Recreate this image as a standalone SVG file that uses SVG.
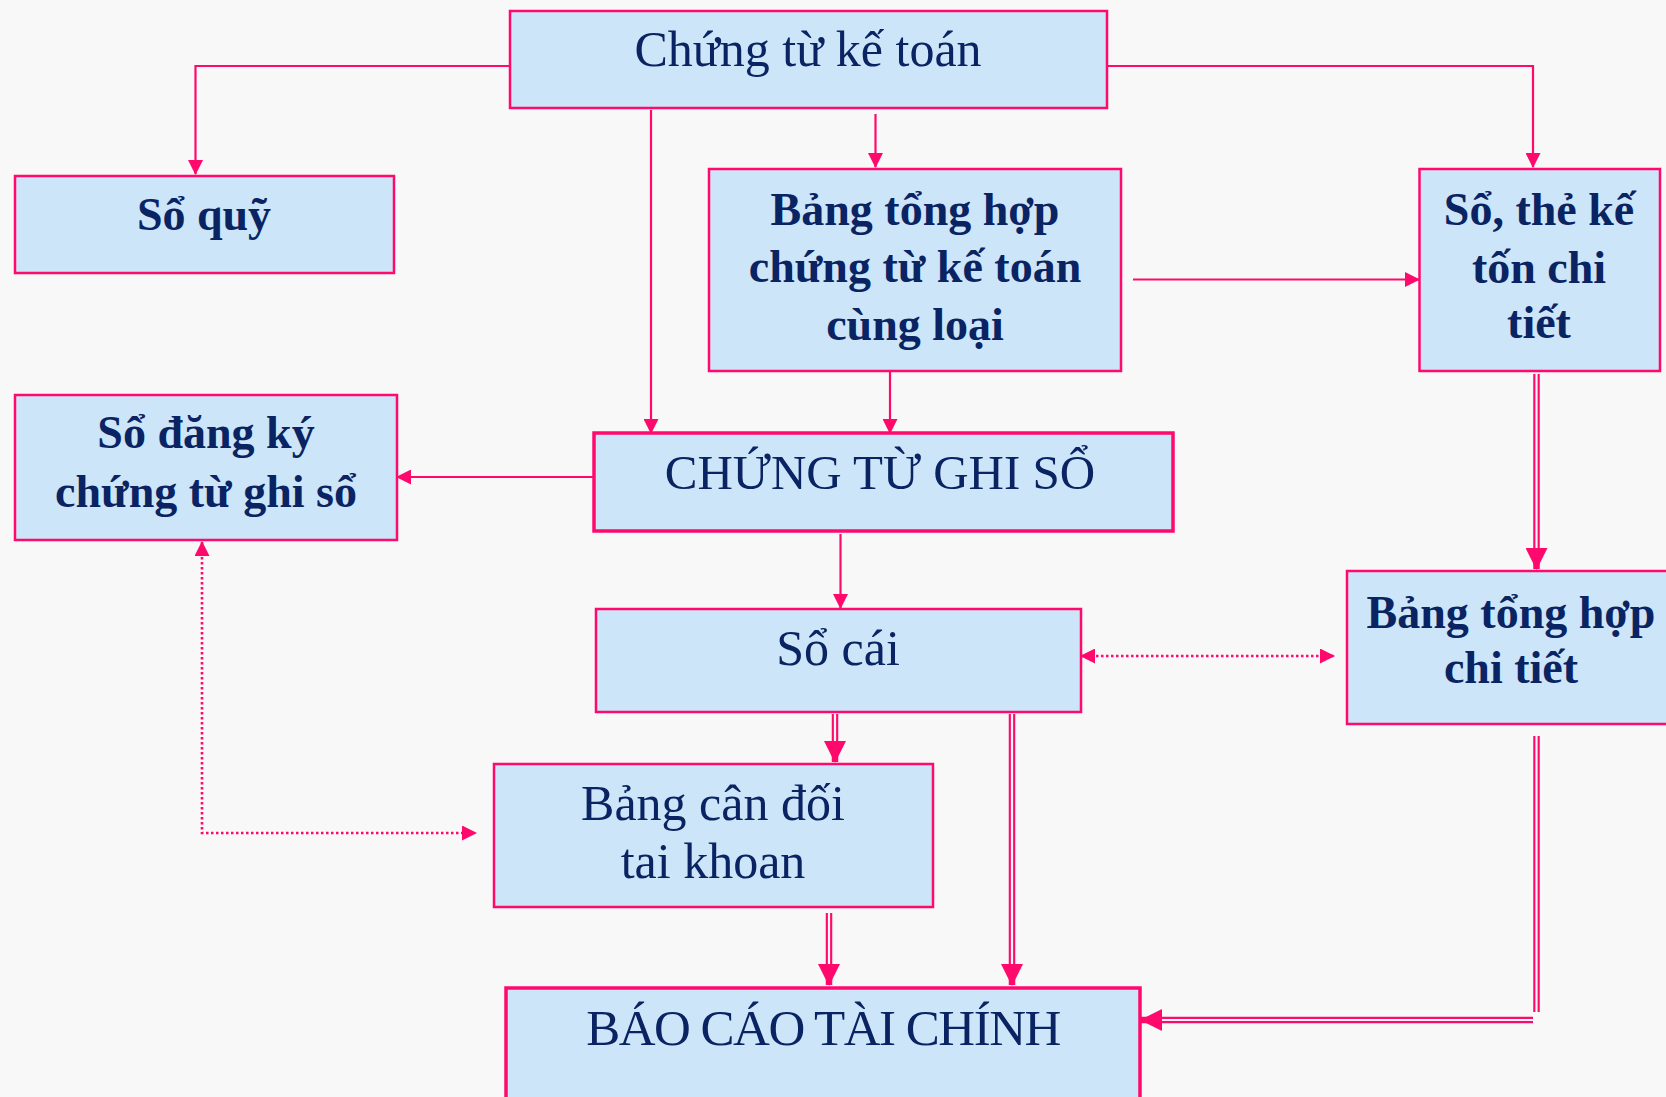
<svg xmlns="http://www.w3.org/2000/svg" width="1666" height="1097" viewBox="0 0 1666 1097">
<defs>
<style>
.box{fill:#CCE5F8;stroke:#FF0A6C;stroke-width:2.5}
.thick{stroke-width:3.5}
.t{font-family:"Liberation Serif","Times New Roman",serif;fill:#0A2463;text-anchor:middle}
.b{font-weight:bold}
.ln{fill:none;stroke:#FF0A6C;stroke-width:2.2}
.dot{fill:none;stroke:#FF0A6C;stroke-width:2.6;stroke-dasharray:2.5 2.5}
.dbl{fill:none;stroke:#FF0A6C;stroke-width:6.5}
.gap{fill:none;stroke:#F8F8F8;stroke-width:2.2}
</style>
<marker id="arr" markerUnits="userSpaceOnUse" markerWidth="15" markerHeight="15" refX="14" refY="7.5" orient="auto-start-reverse" viewBox="0 0 15 15">
<path d="M0,0 L15,7.5 L0,15 z" fill="#FF0A6C"/>
</marker>
<marker id="big" markerUnits="userSpaceOnUse" markerWidth="22" markerHeight="22" refX="21" refY="11" orient="auto" viewBox="0 0 22 22">
<path d="M0,0 L22,11 L0,22 z" fill="#FF0A6C"/>
</marker>
</defs>
<rect width="1666" height="1097" fill="#F8F8F8"/>

<g id="connectors">
<path class="ln" d="M510,66 H195.5 V174" marker-end="url(#arr)"/>
<path class="ln" d="M1107,66 H1533 V167" marker-end="url(#arr)"/>
<path class="ln" d="M875.5,114 V167" marker-end="url(#arr)"/>
<path class="ln" d="M651,110 V433" marker-end="url(#arr)"/>
<path class="ln" d="M890,372 V433" marker-end="url(#arr)"/>
<path class="ln" d="M1133,279.5 H1419" marker-end="url(#arr)"/>
<path class="ln" d="M593,477 H397" marker-end="url(#arr)"/>
<path class="ln" d="M840.5,534 V608" marker-end="url(#arr)"/>
<path class="dot" d="M1081,656 H1334" marker-start="url(#arr)" marker-end="url(#arr)"/>
<path class="dot" d="M202,542 V833 H476" marker-start="url(#arr)" marker-end="url(#arr)"/>
<g>
<path class="dbl" d="M1536.5,374 V569" marker-end="url(#big)"/>
<path class="gap" d="M1536.5,374 V548"/>
</g>
<g>
<path class="dbl" d="M835,714 V762" marker-end="url(#big)"/>
<path class="gap" d="M835,714 V741"/>
</g>
<g>
<path class="dbl" d="M1012,714 V985" marker-end="url(#big)"/>
<path class="gap" d="M1012,714 V964"/>
</g>
<g>
<path class="dbl" d="M829,913 V985" marker-end="url(#big)"/>
<path class="gap" d="M829,913 V964"/>
</g>
<g>
<path class="dbl" d="M1536.5,736 V1012"/>
<path class="gap" d="M1536.5,736 V1012"/>
</g>
<g>
<path class="dbl" d="M1533,1020 H1141" marker-end="url(#big)"/>
<path class="gap" d="M1533,1020 H1162"/>
</g>
</g>

<g id="n-chung-tu-ke-toan">
<rect class="box" x="510" y="11" width="597" height="97"/>
<text class="t" x="808" y="66" font-size="50">Chứng từ kế toán</text>
</g>
<g id="n-so-quy">
<rect class="box" x="15" y="176" width="379" height="97"/>
<text class="t b" x="204" y="230" font-size="46">Sổ quỹ</text>
</g>
<g id="n-bang-tong-hop-ct">
<rect class="box" x="709" y="169" width="412" height="202"/>
<text class="t b" x="915" y="225" font-size="46">Bảng tổng hợp</text>
<text class="t b" x="915" y="282" font-size="46">chứng từ kế toán</text>
<text class="t b" x="915" y="340" font-size="46">cùng loại</text>
</g>
<g id="n-so-the">
<rect class="box" x="1419.5" y="169" width="240.5" height="202"/>
<text class="t b" x="1539" y="225" font-size="46">Sổ, thẻ kế</text>
<text class="t b" x="1539" y="283" font-size="46">tốn chi</text>
<text class="t b" x="1539" y="338" font-size="46">tiết</text>
</g>
<g id="n-so-dang-ky">
<rect class="box" x="15" y="395" width="382" height="145"/>
<text class="t b" x="206" y="448" font-size="46">Sổ đăng ký</text>
<text class="t b" x="206" y="507" font-size="46">chứng từ ghi sổ</text>
</g>
<g id="n-chung-tu-ghi-so">
<rect class="box thick" x="594" y="433" width="579" height="98"/>
<text class="t" x="880" y="489" font-size="49">CHỨNG TỪ GHI SỔ</text>
</g>
<g id="n-bang-tong-hop-ct2">
<rect class="box" x="1347" y="571" width="340" height="153"/>
<text class="t b" x="1511" y="628" font-size="46">Bảng tổng hợp</text>
<text class="t b" x="1511" y="683" font-size="46">chi tiết</text>
</g>
<g id="n-so-cai">
<rect class="box" x="596" y="609" width="485" height="103"/>
<text class="t" x="838" y="665" font-size="50">Sổ cái</text>
</g>
<g id="n-bang-can-doi">
<rect class="box" x="494" y="764" width="439" height="143"/>
<text class="t" x="713" y="820" font-size="50">Bảng cân đối</text>
<text class="t" x="713" y="878" font-size="50">tai khoan</text>
</g>
<g id="n-bao-cao">
<rect class="box thick" x="506" y="988" width="634" height="125"/>
<text class="t" x="823" y="1045" font-size="51" letter-spacing="-1.5">BÁO CÁO TÀI CHÍNH</text>
</g>
</svg>
